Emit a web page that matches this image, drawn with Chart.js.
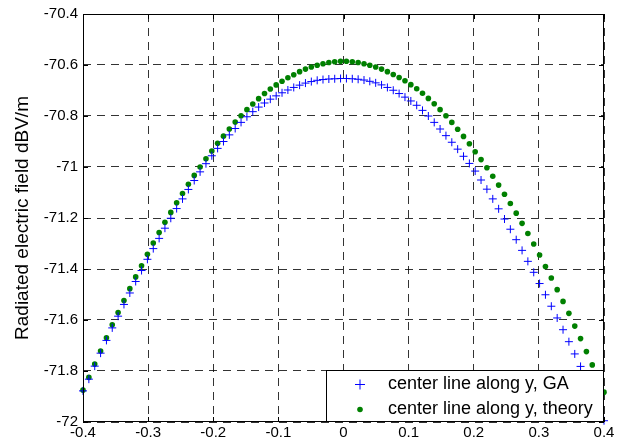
<!DOCTYPE html>
<html>
<head>
<meta charset="utf-8">
<title>Radiated electric field along center line</title>
<script src="https://cdn.jsdelivr.net/npm/chart.js@4.4.0/dist/chart.umd.min.js"></script>
<style>
  html, body { margin: 0; padding: 0; background: #fff; }
  #wrap { width: 635px; height: 448px; }
</style>
</head>
<body>
<div id="wrap"><canvas id="fieldChart" width="635" height="448"></canvas></div>
<script>
// position along y (90 samples from -0.4 to 0.4)
const positions = [
  -0.4000, -0.3910, -0.3820, -0.3730, -0.3640, -0.3551, -0.3461, -0.3371, -0.3281, -0.3191,
  -0.3101, -0.3011, -0.2921, -0.2831, -0.2742, -0.2652, -0.2562, -0.2472, -0.2382, -0.2292,
  -0.2202, -0.2112, -0.2022, -0.1933, -0.1843, -0.1753, -0.1663, -0.1573, -0.1483, -0.1393,
  -0.1303, -0.1213, -0.1124, -0.1034, -0.0944, -0.0854, -0.0764, -0.0674, -0.0584, -0.0494,
  -0.0404, -0.0315, -0.0225, -0.0135, -0.0045, 0.0045, 0.0135, 0.0225, 0.0315, 0.0404,
  0.0494, 0.0584, 0.0674, 0.0764, 0.0854, 0.0944, 0.1034, 0.1124, 0.1213, 0.1303,
  0.1393, 0.1483, 0.1573, 0.1663, 0.1753, 0.1843, 0.1933, 0.2022, 0.2112, 0.2202,
  0.2292, 0.2382, 0.2472, 0.2562, 0.2652, 0.2742, 0.2831, 0.2921, 0.3011, 0.3101,
  0.3191, 0.3281, 0.3371, 0.3461, 0.3551, 0.3640, 0.3730, 0.3820, 0.3910, 0.4000
];

// field from the GA-optimised array, dBV/m
const fieldGA = [
  -71.878, -71.832, -71.781, -71.730, -71.680, -71.631, -71.585, -71.539, -71.494, -71.449,
  -71.406, -71.362, -71.320, -71.280, -71.240, -71.201, -71.163, -71.125, -71.088, -71.053,
  -71.019, -70.987, -70.956, -70.927, -70.900, -70.874, -70.849, -70.825, -70.803, -70.783,
  -70.765, -70.749, -70.734, -70.721, -70.709, -70.698, -70.688, -70.679, -70.671, -70.665,
  -70.660, -70.657, -70.655, -70.654, -70.653, -70.653, -70.654, -70.656, -70.659, -70.664,
  -70.670, -70.678, -70.688, -70.699, -70.712, -70.726, -70.741, -70.758, -70.778, -70.800,
  -70.825, -70.851, -70.877, -70.903, -70.930, -70.958, -70.986, -71.016, -71.051, -71.087,
  -71.125, -71.164, -71.204, -71.244, -71.285, -71.327, -71.370, -71.413, -71.457, -71.501,
  -71.546, -71.592, -71.638, -71.685, -71.733, -71.782, -71.832, -71.884, -71.937, -71.995
];

// field from theory, dBV/m
const fieldTheory = [
  -71.875, -71.825, -71.773, -71.722, -71.670, -71.619, -71.571, -71.524, -71.477, -71.431,
  -71.387, -71.342, -71.298, -71.257, -71.217, -71.178, -71.140, -71.104, -71.068, -71.033,
  -71.000, -70.968, -70.937, -70.907, -70.879, -70.851, -70.824, -70.799, -70.775, -70.753,
  -70.732, -70.712, -70.694, -70.678, -70.664, -70.650, -70.638, -70.626, -70.616, -70.608,
  -70.601, -70.595, -70.590, -70.587, -70.585, -70.585, -70.587, -70.590, -70.595, -70.601,
  -70.608, -70.616, -70.626, -70.637, -70.649, -70.662, -70.677, -70.693, -70.711, -70.731,
  -70.752, -70.775, -70.799, -70.825, -70.852, -70.880, -70.909, -70.940, -70.971, -71.003,
  -71.036, -71.071, -71.107, -71.143, -71.181, -71.221, -71.261, -71.302, -71.345, -71.390,
  -71.435, -71.481, -71.527, -71.574, -71.624, -71.673, -71.724, -71.776, -71.829, -71.883
];

const seriesNames = ['center line along y, GA', 'center line along y, theory'];
const xTicks = [-0.4, -0.3, -0.2, -0.1, 0, 0.1, 0.2, 0.3, 0.4];
const yTicks = [-72, -71.8, -71.6, -71.4, -71.2, -71, -70.8, -70.6, -70.4];

const FONT = "'Liberation Sans', Arial, Helvetica, sans-serif";
const BLUE = '#0000ff';
const GREEN = '#008000';

const toPoints = ys => positions.map((x, i) => ({ x, y: ys[i] }));
// plain number labels: "-71", "-70.8", "0", "0.1"
const tickText = v => String(Math.round(v * 10) / 10);

// box around the axes with inward tick marks, plus the boxed legend
const axesBox = {
  id: 'axesBox',
  afterDatasetsDraw(chart) {
    const { ctx, chartArea: a, scales: { x, y } } = chart;
    ctx.save();
    ctx.strokeStyle = '#000';
    ctx.lineWidth = 1;
    ctx.beginPath();
    xTicks.forEach(v => {
      const px = Math.round(x.getPixelForValue(v)) + 0.5;
      ctx.moveTo(px, a.top); ctx.lineTo(px, a.top + 5);
      ctx.moveTo(px, a.bottom); ctx.lineTo(px, a.bottom - 5);
    });
    yTicks.forEach(v => {
      const py = Math.round(y.getPixelForValue(v)) + 0.5;
      ctx.moveTo(a.left, py); ctx.lineTo(a.left + 5, py);
      ctx.moveTo(a.right, py); ctx.lineTo(a.right - 5, py);
    });
    ctx.stroke();
    ctx.strokeRect(a.left + 0.5, a.top + 0.5, a.right - a.left - 1, a.bottom - a.top - 1);

    // legend
    const lw = 278, lh = 52;
    const lx = a.right - lw, ly = a.bottom - lh;
    ctx.fillStyle = '#fff';
    ctx.fillRect(lx, ly, lw, lh);
    ctx.strokeRect(lx + 0.5, ly + 0.5, lw - 1, lh - 1);

    const mx = lx + 34;
    const rows = [ly + 14.5, ly + 39.5];
    ctx.strokeStyle = BLUE;
    ctx.beginPath();
    ctx.moveTo(mx - 5, rows[0]); ctx.lineTo(mx + 5, rows[0]);
    ctx.moveTo(mx, rows[0] - 5); ctx.lineTo(mx, rows[0] + 5);
    ctx.stroke();
    ctx.fillStyle = GREEN;
    ctx.beginPath();
    ctx.arc(mx, rows[1], 2.8, 0, Math.PI * 2);
    ctx.fill();

    ctx.fillStyle = '#000';
    ctx.font = '18px ' + FONT;
    ctx.textAlign = 'left';
    ctx.textBaseline = 'middle';
    seriesNames.forEach((name, i) => ctx.fillText(name, lx + 62, rows[i]));
    ctx.restore();
  }
};

new Chart(document.getElementById('fieldChart'), {
  type: 'scatter',
  data: {
    datasets: [
      {
        label: seriesNames[0],
        data: toPoints(fieldGA),
        pointStyle: 'cross',
        radius: 4,
        borderColor: BLUE,
        backgroundColor: BLUE,
        borderWidth: 1,
        clip: false
      },
      {
        label: seriesNames[1],
        data: toPoints(fieldTheory),
        pointStyle: 'circle',
        radius: 2.8,
        borderWidth: 0,
        backgroundColor: GREEN,
        borderColor: GREEN,
        clip: false
      }
    ]
  },
  options: {
    responsive: false,
    animation: false,
    events: [],
    layout: { padding: { left: 0, right: 31, top: 14, bottom: 0 } },
    plugins: {
      legend: { display: false },
      tooltip: { enabled: false }
    },
    scales: {
      x: {
        type: 'linear',
        min: -0.4,
        max: 0.4,
        afterFit: s => { s.height = 26; },
        afterBuildTicks: s => { s.ticks = xTicks.map(v => ({ value: v })); },
        ticks: { color: '#000', font: { family: FONT, size: 15 }, padding: 2, callback: tickText },
        grid: { color: 'rgba(0,0,0,0.8)', lineWidth: 1, drawTicks: false },
        border: { display: false, dash: [8, 6] }
      },
      y: {
        type: 'linear',
        min: -72,
        max: -70.4,
        afterFit: s => { s.width = 83; },
        afterBuildTicks: s => { s.ticks = yTicks.map(v => ({ value: v })); },
        ticks: { color: '#000', font: { family: FONT, size: 15 }, padding: 5, callback: tickText },
        grid: { color: 'rgba(0,0,0,0.8)', lineWidth: 1, drawTicks: false },
        border: { display: false, dash: [8, 6] },
        title: {
          display: true,
          text: 'Radiated electric field dBV/m',
          color: '#000',
          font: { family: FONT, size: 19 },
          padding: { top: 11, bottom: 0 }
        }
      }
    }
  },
  plugins: [axesBox]
});
</script>
</body>
</html>
